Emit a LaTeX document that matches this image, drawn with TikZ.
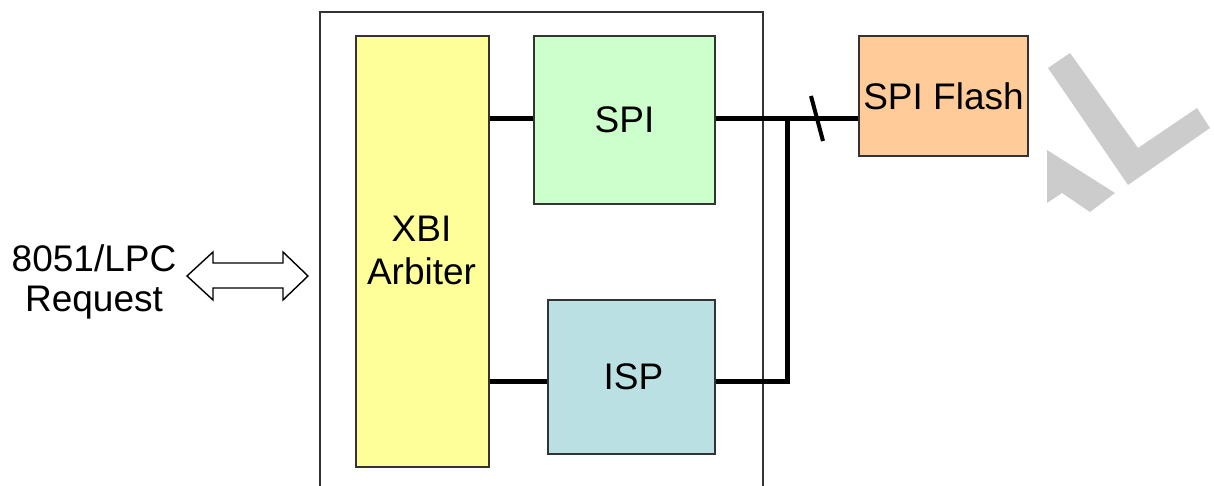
\documentclass[tikz,border=0pt]{standalone}
\usepackage{fontspec}
\setmainfont{Liberation Sans}
\usetikzlibrary{calc,positioning}

\definecolor{xbiyellow}{HTML}{FFFF99}
\definecolor{spigreen}{HTML}{CCFFCC}
\definecolor{ispblue}{HTML}{BBE0E3}
\definecolor{flashorange}{HTML}{FFCC99}
\definecolor{wmgray}{HTML}{CCCCCC}

\tikzset{
	blk/.style={draw=black!80, line width=2pt, inner sep=0pt, anchor=north west, align=center},
	bus/.style={line width=5pt},
	lbl/.style={font=\fontsize{37}{43}\selectfont, align=center, inner sep=0pt}
}

\begin{document}
\begin{tikzpicture}[x=1pt,y=-1pt]
				\useasboundingbox (0,0) rectangle (1214,486);
				%\draw[color=gray,step=10pt, help lines,opacity=0.3] (0,0) grid (1214,486); %help grids

				\node[draw=black!80, line width=1.8pt, inner sep=0pt, anchor=north west, minimum width=443pt, minimum height=500pt] (chip) at (319,11) {};

				\node[blk, fill=xbiyellow, minimum width=133pt, minimum height=431pt] (xbi) at (355,35) {};
				\node[lbl] (xbitxt) at (421.5,250) {XBI\\Arbiter};
				\node[blk, fill=spigreen, minimum width=181pt, minimum height=168pt] (spi) at (533,35) {};
				\node[lbl] at (spi.center) {SPI};
				\node[blk, fill=ispblue, minimum width=167pt, minimum height=154pt] (isp) at (547,299) {};
				\node[lbl] at ($(isp.center)+(2,0)$) {ISP};
				\node[blk, fill=flashorange, minimum width=169pt, minimum height=120pt] (flash) at (858,35) {};
				\node[lbl] at (flash.center) {SPI Flash};

				\node[lbl, font=\fontsize{37}{40}\selectfont] (req) at (94,282) {8051/LPC\\Request};

				% hollow double arrow
				\coordinate (arr) at (247.5,276);
				\draw[line width=1.4pt, fill=white] ($(arr)+(-60.5,0)$) -- ++(26,-24) -- ++(0,11) -- ++(70,0) -- ++(0,-11)
					-- ++(25,24) -- ++(-25,24) -- ++(0,-12) -- ++(-70,0) -- ++(0,12) -- cycle;

				% buses
				\coordinate (jn) at (787,119);
				\draw[bus] (xbi.east |- 0,119) -- (spi.west |- 0,119);
				\draw[bus] (xbi.east |- 0,381) -- (isp.west |- 0,381);
				\draw[bus] (spi.east |- jn) -- (flash.west |- jn);
				\draw[bus] (isp.east |- 0,381) -| (jn);
				\draw[line width=4pt] (811,96) -- (823,141);

				% watermark
				\fill[wmgray] (1048,68) -- (1070,53) -- (1138,148) -- (1197,108) -- (1210,128) -- (1128,185) -- cycle;
				\fill[wmgray] (1047,150) -- (1115,193) -- (1090,212) -- (1062,193) -- (1047,203) -- cycle;
\end{tikzpicture}
\end{document}
